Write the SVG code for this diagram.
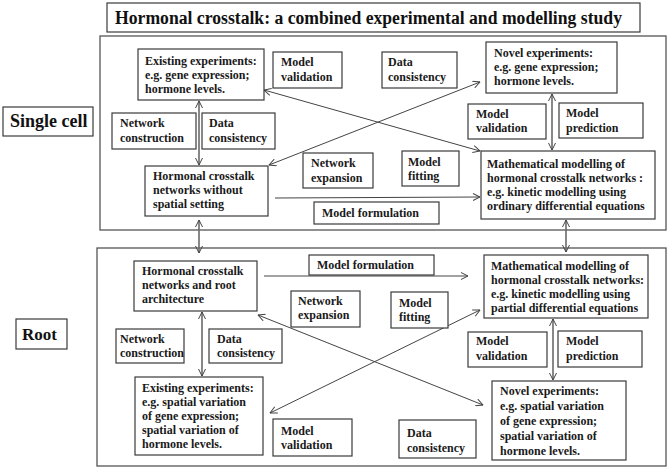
<svg xmlns="http://www.w3.org/2000/svg" width="669" height="469" viewBox="0 0 669 469">
<defs>
<style>
.frame{fill:#fff;stroke:#555;stroke-width:1.3}
.box{fill:#fff;stroke:#3a3a3a;stroke-width:1.2}
.t{font-family:"Liberation Serif","Times New Roman",serif;font-weight:bold;font-size:12px;fill:#1a1a1a}
.big{font-family:"Liberation Serif","Times New Roman",serif;font-weight:bold;font-size:18px;fill:#111}
.c{stroke:#444;stroke-width:1;fill:none}
.v{stroke:#6a6a6a;stroke-width:1.6;fill:none}
</style>
<marker id="ah" viewBox="0 0 8 8" refX="7.5" refY="4" markerWidth="8" markerHeight="8" markerUnits="userSpaceOnUse" orient="auto-start-reverse">
<path d="M0.5,0.5 L7.5,4 L0.5,7.5" fill="none" stroke="#444" stroke-width="1"/>
</marker>
</defs>
<rect width="669" height="469" fill="#fff"/>

<g id="title">
<rect class="box" x="107" y="3" width="533" height="29"/>
<text class="big" x="115" y="24" textLength="507" lengthAdjust="spacingAndGlyphs">Hormonal crosstalk: a combined experimental and modelling study</text>
</g>

<g id="frames">
<rect class="frame" x="100" y="36" width="566" height="194"/>
<rect class="frame" x="97" y="248" width="569" height="218"/>
</g>

<g id="label-single">
<rect class="box" x="3" y="107" width="90" height="29"/>
<text class="big" x="10" y="127">Single cell</text>
</g>
<g id="label-root">
<rect class="box" x="16" y="319" width="51" height="30"/>
<text class="big" x="22" y="340" style="font-size:17px">Root</text>
</g>

<g id="connectors">
<line class="v" x1="199" y1="101" x2="199" y2="165" marker-start="url(#ah)" marker-end="url(#ah)"/>
<line class="c" x1="269" y1="165" x2="480" y2="82" marker-start="url(#ah)" marker-end="url(#ah)"/>
<line class="c" x1="264" y1="90" x2="480" y2="151" marker-start="url(#ah)" marker-end="url(#ah)"/>
<line class="c" x1="275" y1="198" x2="480" y2="197" marker-end="url(#ah)"/>
<line class="v" x1="552" y1="94" x2="552" y2="150" marker-start="url(#ah)" marker-end="url(#ah)"/>
<line class="v" x1="199" y1="220" x2="199" y2="253" marker-start="url(#ah)" marker-end="url(#ah)"/>
<line class="v" x1="566" y1="220" x2="566" y2="252" marker-start="url(#ah)" marker-end="url(#ah)"/>
<line class="c" x1="264" y1="276" x2="468" y2="276" marker-end="url(#ah)"/>
<line class="c" x1="258" y1="315" x2="483" y2="405" marker-start="url(#ah)" marker-end="url(#ah)"/>
<line class="c" x1="270" y1="413" x2="480" y2="310" marker-start="url(#ah)" marker-end="url(#ah)"/>
<line class="v" x1="202" y1="312" x2="202" y2="376" marker-start="url(#ah)" marker-end="url(#ah)"/>
<line class="v" x1="553" y1="319" x2="553" y2="380" marker-start="url(#ah)" marker-end="url(#ah)"/>
</g>

<!-- Single cell section -->
<g id="sc-existing">
<rect class="box" x="138" y="49" width="126" height="51"/>
<text class="t" x="145" y="65">Existing experiments:</text>
<text class="t" x="145" y="79">e.g. gene expression;</text>
<text class="t" x="145" y="93">hormone levels.</text>
</g>
<g id="sc-model-validation-1">
<rect class="box" x="273" y="52" width="69" height="36"/>
<text class="t" x="281" y="66">Model</text>
<text class="t" x="281" y="81">validation</text>
</g>
<g id="sc-data-consistency-1">
<rect class="box" x="382" y="52" width="75" height="36"/>
<text class="t" x="388" y="66">Data</text>
<text class="t" x="388" y="81">consistency</text>
</g>
<g id="sc-novel">
<rect class="box" x="486" y="42" width="131" height="51"/>
<text class="t" x="494" y="57">Novel experiments:</text>
<text class="t" x="494" y="71">e.g. gene expression;</text>
<text class="t" x="494" y="85">hormone levels.</text>
</g>
<g id="sc-network-construction">
<rect class="box" x="112" y="113" width="84" height="36"/>
<text class="t" x="120" y="127">Network</text>
<text class="t" x="120" y="142">construction</text>
</g>
<g id="sc-data-consistency-2">
<rect class="box" x="202" y="113" width="73" height="36"/>
<text class="t" x="209" y="127">Data</text>
<text class="t" x="209" y="142">consistency</text>
</g>
<g id="sc-model-validation-2">
<rect class="box" x="468" y="104" width="78" height="35"/>
<text class="t" x="476" y="118">Model</text>
<text class="t" x="476" y="132">validation</text>
</g>
<g id="sc-model-prediction">
<rect class="box" x="559" y="103" width="84" height="35"/>
<text class="t" x="566" y="117">Model</text>
<text class="t" x="566" y="132">prediction</text>
</g>
<g id="sc-network-expansion">
<rect class="box" x="303" y="153" width="70" height="35"/>
<text class="t" x="311" y="167">Network</text>
<text class="t" x="311" y="182">expansion</text>
</g>
<g id="sc-model-fitting">
<rect class="box" x="402" y="151" width="57" height="35"/>
<text class="t" x="408" y="166">Model</text>
<text class="t" x="408" y="180">fitting</text>
</g>
<g id="sc-hormonal">
<rect class="box" x="145" y="166" width="123" height="50"/>
<text class="t" x="153" y="180">Hormonal crosstalk</text>
<text class="t" x="153" y="194">networks without</text>
<text class="t" x="153" y="208">spatial setting</text>
</g>
<g id="sc-model-formulation">
<rect class="box" x="314" y="202" width="125" height="22"/>
<text class="t" x="322" y="217">Model formulation</text>
</g>
<g id="sc-math">
<rect class="box" x="481" y="151" width="174" height="68"/>
<text class="t" x="487" y="168">Mathematical modelling of</text>
<text class="t" x="487" y="182">hormonal crosstalk networks :</text>
<text class="t" x="487" y="196">e.g. kinetic modelling using</text>
<text class="t" x="487" y="210">ordinary differential equations</text>
</g>

<!-- Root section -->
<g id="r-hormonal">
<rect class="box" x="134" y="261" width="123" height="50"/>
<text class="t" x="142" y="275">Hormonal crosstalk</text>
<text class="t" x="142" y="289">networks and root</text>
<text class="t" x="142" y="303">architecture</text>
</g>
<g id="r-model-formulation">
<rect class="box" x="309" y="255" width="125" height="20"/>
<text class="t" x="317" y="269">Model formulation</text>
</g>
<g id="r-network-expansion">
<rect class="box" x="291" y="291" width="69" height="36"/>
<text class="t" x="298" y="305">Network</text>
<text class="t" x="298" y="319">expansion</text>
</g>
<g id="r-model-fitting">
<rect class="box" x="391" y="292" width="57" height="36"/>
<text class="t" x="399" y="307">Model</text>
<text class="t" x="399" y="321">fitting</text>
</g>
<g id="r-math">
<rect class="box" x="484" y="255" width="164" height="63"/>
<text class="t" x="491" y="270">Mathematical modelling of</text>
<text class="t" x="491" y="284">hormonal crosstalk networks:</text>
<text class="t" x="491" y="298">e.g. kinetic modelling using</text>
<text class="t" x="491" y="312">partial differential equations</text>
</g>
<g id="r-network-construction">
<rect class="box" x="116" y="329" width="68" height="34"/>
<text class="t" x="120" y="343">Network</text>
<text class="t" x="120" y="357">construction</text>
</g>
<g id="r-data-consistency-1">
<rect class="box" x="209" y="329" width="73" height="34"/>
<text class="t" x="217" y="343">Data</text>
<text class="t" x="217" y="357">consistency</text>
</g>
<g id="r-model-validation-1">
<rect class="box" x="468" y="332" width="79" height="35"/>
<text class="t" x="476" y="345">Model</text>
<text class="t" x="476" y="360">validation</text>
</g>
<g id="r-model-prediction">
<rect class="box" x="558" y="331" width="84" height="36"/>
<text class="t" x="566" y="345">Model</text>
<text class="t" x="566" y="360">prediction</text>
</g>
<g id="r-existing">
<rect class="box" x="135" y="377" width="128" height="78"/>
<text class="t" x="142" y="392">Existing experiments:</text>
<text class="t" x="142" y="406">e.g. spatial variation</text>
<text class="t" x="142" y="420">of gene expression;</text>
<text class="t" x="142" y="434">spatial variation of</text>
<text class="t" x="142" y="448">hormone levels.</text>
</g>
<g id="r-model-validation-2">
<rect class="box" x="273" y="419" width="79" height="37"/>
<text class="t" x="281" y="435">Model</text>
<text class="t" x="281" y="449">validation</text>
</g>
<g id="r-data-consistency-2">
<rect class="box" x="399" y="420" width="77" height="38"/>
<text class="t" x="407" y="437">Data</text>
<text class="t" x="407" y="452">consistency</text>
</g>
<g id="r-novel">
<rect class="box" x="492" y="381" width="134" height="79"/>
<text class="t" x="500" y="395">Novel experiments:</text>
<text class="t" x="500" y="410">e.g. spatial variation</text>
<text class="t" x="500" y="425">of gene expression;</text>
<text class="t" x="500" y="440">spatial variation of</text>
<text class="t" x="500" y="455">hormone levels.</text>
</g>
</svg>
